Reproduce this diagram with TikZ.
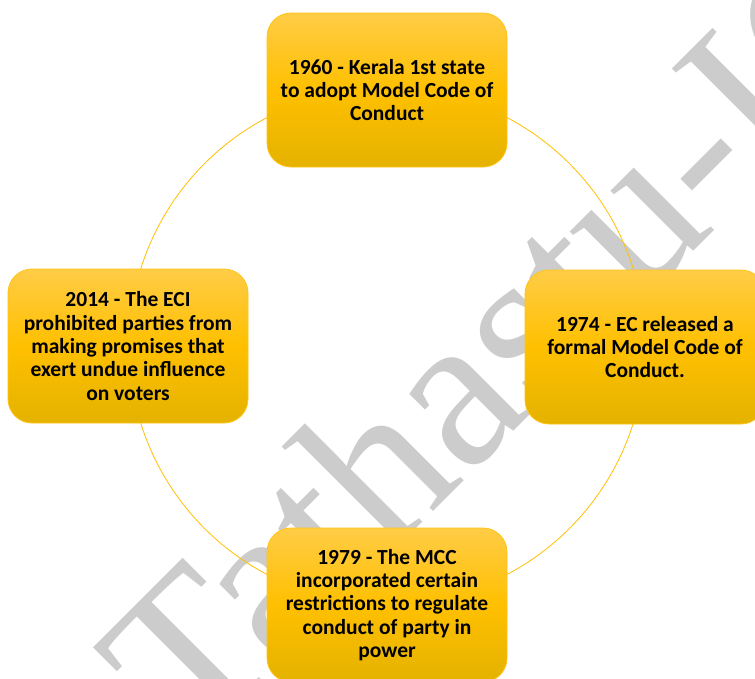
\documentclass[tikz,border=0pt]{standalone}
\usepackage{fontspec}
\setmainfont{Carlito}
\newfontfamily\wmfont{Liberation Serif}
\definecolor{gtop}{RGB}{255,204,70}
\definecolor{gmid}{RGB}{255,192,0}
\definecolor{gbot}{RGB}{228,178,0}
\definecolor{boxline}{RGB}{255,196,20}
\definecolor{ring}{RGB}{255,192,0}
\definecolor{wm}{RGB}{204,204,204}
\begin{document}
\begin{tikzpicture}[x=1pt,y=-1pt,
  box/.style={draw=boxline, line width=0.8pt, rounded corners=24pt,
    top color=gtop, bottom color=gbot, middle color=gmid,
    minimum width=240pt, minimum height=154pt, align=center, inner sep=0pt,
    font=\bfseries\fontsize{21.5}{23.3}\selectfont},
  ringline/.style={draw=ring, line width=0.8pt}]
\useasboundingbox (0,0) rectangle (755,678);
\clip (0,0) rectangle (755,678);
\fill[white] (0,0) rectangle (755,678);
\node[wm, font=\wmfont\fontsize{220}{220}\selectfont, rotate=45, inner sep=0pt, anchor=base west] (mark) at (192,753) {Tathastu-IC};
\coordinate (c) at (387,346);
\draw[ringline] (c) circle[radius=258pt];
\node[box] (n1960) at (387,90) {1960 - Kerala 1st state\\to adopt Model Code of\\Conduct};
\node[box] (n1974) at (645,347) {1974 - EC released a\\formal Model Code of\\Conduct.};
\node[box] (n1979) at (387,605) {1979 - The MCC\\incorporated certain\\restrictions to regulate\\conduct of party in\\power};
\node[box] (n2014) at (128,346) {2014 - The ECI\\prohibited parties from\\making promises that\\exert undue influence\\on voters};
\end{tikzpicture}
\end{document}
